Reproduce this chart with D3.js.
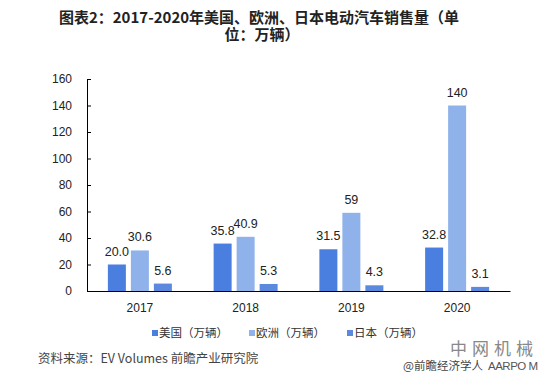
<!DOCTYPE html>
<html>
<head>
<meta charset="utf-8">
<script src="https://cdn.jsdelivr.net/npm/d3@7"></script>
<style>
  body { margin: 0; background: #fff; }
  svg text { font-family: "Liberation Sans", Arial, "Noto Sans CJK SC", sans-serif; }
  .cjk { font-family: "Noto Sans CJK SC", sans-serif; }
</style>
</head>
<body>
<div id="chart"></div>
<script>
// data
const years = ['2017', '2018', '2019', '2020']
const series = ['美国（万辆）', '欧洲（万辆）', '日本（万辆）']
const usa = [20.0, 35.8, 31.5, 32.8]
const europe = [30.6, 40.9, 59, 140]
const japan = [5.6, 5.3, 4.3, 3.1]
const usaLabels = ['20.0', '35.8', '31.5', '32.8']
const europeLabels = ['30.6', '40.9', '59', '140']
const japanLabels = ['5.6', '5.3', '4.3', '3.1']
const yTicks = [0, 20, 40, 60, 80, 100, 120, 140, 160]

const colors = ['#4a7fdf', '#8fb2ea', '#5b89de']

const width = 554, height = 389
const margin = {left: 87, right: 44, top: 79, bottom: 98}

const svg = d3.select('#chart').append('svg')
    .attr('width', width)
    .attr('height', height)

// title (two lines, wrapped like the original)
const titleLines = ['图表2：2017-2020年美国、欧洲、日本电动汽车销售量（单', '位：万辆）']
svg.append('text')
    .attr('class', 'cjk')
    .attr('x', 259)
    .attr('y', 23)
    .attr('text-anchor', 'middle')
    .attr('font-size', 15)
    .attr('font-weight', 'bold')
    .attr('fill', '#222')
    .text(titleLines[0])
svg.append('text')
    .attr('class', 'cjk')
    .attr('x', 262)
    .attr('y', 40)
    .attr('text-anchor', 'middle')
    .attr('font-size', 15)
    .attr('font-weight', 'bold')
    .attr('fill', '#222')
    .text(titleLines[1])

// scales
const x = d3.scaleBand()
    .domain(years)
    .range([margin.left, width - margin.right])

const y = d3.scaleLinear()
    .domain([0, 160])
    .range([height - margin.bottom, margin.top])

const barW = 18, gap = 5
const xs = d3.scaleBand()
    .domain(series)
    .range([-(barW * 3 + gap * 2) / 2, (barW * 3 + gap * 2) / 2])
    .paddingInner(gap / (barW + gap))

// y axis
const yAxis = d3.axisLeft(y).tickValues(yTicks).tickSize(-4).tickPadding(15)
const gy = svg.append('g')
    .attr('transform', 'translate(' + margin.left + ',0)')
    .call(yAxis)
gy.select('.domain').attr('stroke', '#000')
gy.selectAll('.tick line').attr('stroke', '#000')
gy.selectAll('.tick text').attr('font-size', 12).attr('fill', '#222')

// x axis
const xAxis = d3.axisBottom(x).tickSize(0).tickPadding(12)
const gx = svg.append('g')
    .attr('transform', 'translate(0,' + y(0) + ')')
    .call(xAxis)
gx.select('.domain').attr('stroke', '#000').attr('stroke-width', 1.2)
gx.selectAll('.tick text').attr('font-size', 12).attr('fill', '#222')

// bars
const all = [usa, europe, japan]
const allLabels = [usaLabels, europeLabels, japanLabels]
all.forEach((vals, si) => {
    const g = svg.append('g')
    const rows = years.map((yr, i) => ({year: yr, value: vals[i], label: allLabels[si][i]}))
    g.selectAll('rect')
        .data(rows)
        .join('rect')
        .attr('x', d => x(d.year) + x.bandwidth() / 2 + xs(series[si]))
        .attr('y', d => y(d.value))
        .attr('width', xs.bandwidth())
        .attr('height', d => y(0) - y(d.value))
        .style('fill', colors[si])
    g.selectAll('text')
        .data(rows)
        .join('text')
        .attr('x', d => x(d.year) + x.bandwidth() / 2 + xs(series[si]) + xs.bandwidth() / 2)
        .attr('y', d => y(d.value) - 9)
        .attr('text-anchor', 'middle')
        .attr('font-size', 12.5)
        .attr('fill', '#222')
        .text(d => d.label)
})
// keep axis on top of bars
gx.raise()

// legend
const legendX = [152, 249, 347]
series.forEach((s, i) => {
    svg.append('rect')
        .attr('x', legendX[i])
        .attr('y', 330)
        .attr('width', 6)
        .attr('height', 6)
        .style('fill', colors[i])
    svg.append('text')
        .attr('class', 'cjk')
        .attr('x', legendX[i] + 7)
        .attr('y', 337)
        .attr('font-size', 11.5)
        .attr('fill', '#333')
        .text(s)
})

// source
svg.append('text')
    .attr('class', 'cjk')
    .attr('x', 38)
    .attr('y', 363)
    .attr('font-size', 12.5)
    .attr('fill', '#444')
    .text('资料来源：EV Volumes 前瞻产业研究院')

svg.append('text')
    .attr('class', 'cjk')
    .attr('x', 450)
    .attr('y', 355)
    .attr('font-size', 17)
    .attr('letter-spacing', 5)
    .attr('fill', '#888')
    .text('中网机械')

svg.append('text')
    .attr('class', 'cjk')
    .attr('x', 403)
    .attr('y', 370)
    .attr('font-size', 11.5)
    .attr('fill', '#444')
    .text('@前瞻经济学人')

svg.append('text')
    .attr('x', 488)
    .attr('y', 370)
    .attr('font-size', 11.5)
    .attr('letter-spacing', -0.5)
    .attr('fill', '#555')
    .text('AARPO M')
</script>
</body>
</html>
